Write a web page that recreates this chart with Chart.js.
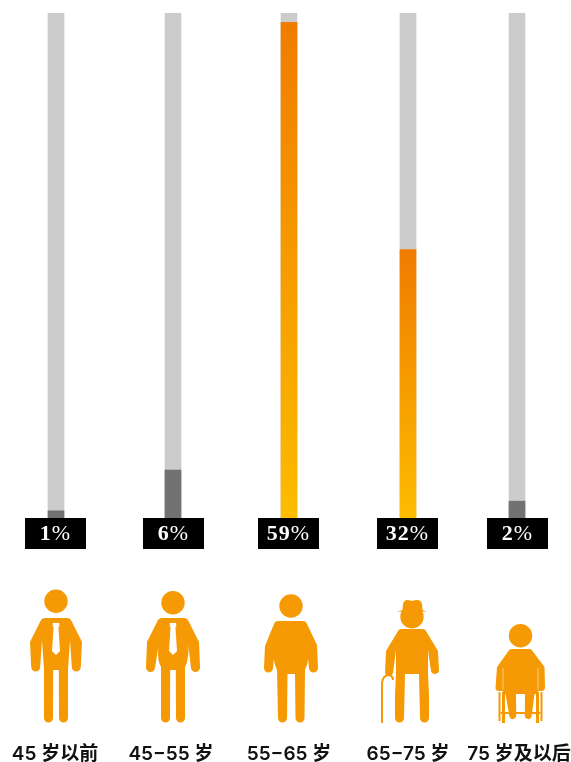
<!DOCTYPE html>
<html lang="zh">
<head>
<meta charset="utf-8">
<title>发病年龄分布</title>
<script src="https://cdn.jsdelivr.net/npm/chart.js@4/dist/chart.umd.min.js"></script>
<style>
  html, body { margin: 0; padding: 0; background: #fff; }
  #wrap { width: 571px; height: 762px; position: relative; }
</style>
</head>
<body>
<div id="wrap"><canvas id="grafico"></canvas></div>
<script>
// dados
const categories = ['45 岁以前', '45−55 岁', '55−65 岁', '65−75 岁', '75 岁及以后'];
const shareValues = [0.85, 5.7, 58.9, 31.9, 2];
const shareLabels = ['1', '6', '59', '32', '2'];
const trackValues = [60, 60, 60, 60, 60];

// layout: the columns are not evenly spaced in the picture
const columnCentres = [56, 173, 289, 408, 517];
const labelCentres = [55, 171, 289, 408, 519];
const boxOffsets = [-31, -30, -31, -31, -30];
const iconOrange = '#f59a04';

function barFill(context) {
  const chart = context.chart;
  const value = context.raw.y;
  if (value < 10) return '#727272';
  const y = chart.scales.y;
  const g = chart.ctx.createLinearGradient(0, y.getPixelForValue(value), 0, y.getPixelForValue(0));
  g.addColorStop(0, '#f07c00');
  g.addColorStop(1, '#fcbc00');
  return g;
}

// black boxes with the percentages: bold digits, lighter % sign
const percentBoxes = {
  id: 'percentBoxes',
  afterDatasetsDraw(chart) {
    const ctx = chart.ctx;
    const top = chart.scales.y.getPixelForValue(0);
    const boldFont = 'bold 22px "Liberation Serif"';
    const thinFont = '22px "Liberation Serif"';
    ctx.save();
    ctx.textAlign = 'left';
    ctx.textBaseline = 'middle';
    shareLabels.forEach((label, i) => {
      const x = chart.scales.x.getPixelForValue(columnCentres[i]);
      ctx.fillStyle = '#000';
      ctx.fillRect(x + boxOffsets[i], top, 61, 31);
      ctx.fillStyle = '#fff';
      ctx.letterSpacing = '1px';
      ctx.font = boldFont;
      const digits = ctx.measureText(label).width;
      ctx.font = thinFont;
      const sign = ctx.measureText('%').width;
      const start = x + boxOffsets[i] + 30.5 - (digits + sign) / 2;
      ctx.fillText('%', start + digits, top + 16);
      ctx.font = boldFont;
      ctx.fillText(label, start, top + 16);
    });
    ctx.restore();
  }
};

// pictograms, drawn relative to each figure's centre
const figures = [
  { cx: 56, head: 601.3, parts: [
    'M-11 618 H11 Q14 618 15.5 621 L26 642 L24.8 667 A4.5 4.5 0 0 1 15.8 667 L14 640 L12 670 L12 718 A4.5 4.5 0 0 1 3 718 L2.8 670 H-2.8 L-3 718 A4.5 4.5 0 0 1 -12 718 L-12 670 L-14 640 L-15.8 667 A4.5 4.5 0 0 1 -24.8 667 L-26 642 L-15.5 621 Q-14 618 -11 618 Z'
  ], tie: true },
  { cx: 173, head: 602.7, parts: [
    'M-11 618 H11 Q14 618 15.5 621 L26 642 L27 667 A4.5 4.5 0 0 1 18 668 L15 642 Q16 652 15 656 Q14 664 12 667 L12 718 A4.5 4.5 0 0 1 3 718 L2.8 670 H-2.8 L-3 718 A4.5 4.5 0 0 1 -12 718 L-12 667 Q-15 662 -15 653 Q-15 645 -14 642 L-18 668 A4.5 4.5 0 0 1 -27 667 L-26 642 L-15.5 621 Q-14 618 -11 618 Z'
  ], tie: true },
  { cx: 291, head: 606, parts: [
    'M-13 621 H12 Q15 621 16 624 L26 645 L27 668 A4.5 4.5 0 0 1 18 668 L16 648 Q19 660 14 670 L13.5 718 A4.5 4.5 0 0 1 4.5 718 L4 674 H-3.5 L-4 718 A4.5 4.5 0 0 1 -13 718 L-14 670 Q-19 660 -16 648 L-18 668 A4.5 4.5 0 0 1 -27 668 L-26 646 L-17 624 Q-16 621 -13 621 Z'
  ], tie: false },
  { cx: 412, head: 616.7, parts: [
    'M-11 629 H11 Q13 629 14 631 L26 651 L27 671 A4.2 4.2 0 0 1 19 671 L16 650 L16 674 L17 695 L17 718 A4.5 4.5 0 0 1 8 718 L7 674 H-7 L-8 718 A4.5 4.5 0 0 1 -17 718 L-17 695 L-16 674 L-16 650 L-19 673 A4.2 4.2 0 0 1 -27 673 L-26 651 L-14 631 Q-13 629 -11 629 Z',
    'M-9.5 610 L-9 604 Q-8 600 -5 600 Q-3 600 0 601 Q3 600 5 600 Q9 600 10 604 L10.5 610 L15 611.5 L-15 611.5 Z'
  ], tie: false, cane: true },
  { cx: 520.5, head: 635.7, parts: [
    'M-9 649 H9 Q11 649 12 651 L24 667 L24.5 688 Q24 691 21 691 L17.5 691 L17.5 694 H14 L11 717 A3.5 3.5 0 0 1 4.3 716 L4.5 694 H-4.5 L-4.3 716 A3.5 3.5 0 0 1 -11 717 L-15 694 H-17.5 L-17.5 691 H-21 Q-25 691 -25 688 L-23.5 667 L-12 651 Q-11 649 -9 649 Z'
  ], tie: false, chair: true }
];

const figureIcons = {
  id: 'figureIcons',
  afterDraw(chart) {
    const ctx = chart.ctx;
    figures.forEach(f => {
      ctx.save();
      ctx.translate(f.cx, 0);
      ctx.fillStyle = iconOrange;
      ctx.strokeStyle = iconOrange;
      ctx.beginPath();
      ctx.arc(0, f.head, 11.7, 0, Math.PI * 2);
      ctx.fill();
      f.parts.forEach(p => ctx.fill(new Path2D(p)));
      if (f.tie) {
        ctx.fillStyle = '#fff';
        ctx.fill(new Path2D('M-3.2 623 H3.2 V627 H2.4 L4 651 L0 655 L-4 651 L-2.4 627 H-3.2 Z'));
      }
      if (f.cane) {
        ctx.lineWidth = 2;
        ctx.beginPath();
        ctx.moveTo(-30, 723);
        ctx.lineTo(-30, 683);
        ctx.quadraticCurveTo(-29, 675, -23, 675);
        ctx.quadraticCurveTo(-19, 676, -19, 680);
        ctx.stroke();
      }
      if (f.chair) {
        ctx.fillRect(-20, 712, 40, 2);
        [[-22, 2, 721], [-18.5, 3, 723], [15.5, 3, 723], [20, 2, 721]].forEach(l => {
          ctx.fillRect(l[0], 692, l[1], l[2] - 692);
        });
        // thin gaps between arms and torso
        ctx.strokeStyle = '#fbd9a0';
        ctx.lineWidth = 0.8;
        ctx.beginPath();
        ctx.moveTo(-17.5, 668); ctx.lineTo(-17.5, 690);
        ctx.moveTo(17.5, 668); ctx.lineTo(17.5, 690);
        ctx.stroke();
      }
      ctx.restore();
    });
  }
};

new Chart(document.getElementById('grafico'), {
  type: 'bar',
  data: {
    datasets: [
      {
        label: 'share',
        data: columnCentres.map((x, i) => ({ x: x, y: shareValues[i] })),
        backgroundColor: barFill,
        grouped: false,
        barThickness: 16,
        order: 0
      },
      {
        label: 'track',
        data: columnCentres.map((x, i) => ({ x: x, y: trackValues[i] })),
        backgroundColor: '#cccccc',
        grouped: false,
        barThickness: 16,
        order: 1
      }
    ]
  },
  options: {
    responsive: true,
    maintainAspectRatio: false,
    animation: false,
    layout: { padding: { top: 13, left: 0, right: 0, bottom: 0 } },
    plugins: { legend: { display: false }, tooltip: { enabled: false } },
    scales: {
      x: {
        type: 'linear',
        min: 0,
        max: 571,
        offset: false,
        // long transparent tick marks push the labels below the figures
        grid: { display: true, drawOnChartArea: false, drawTicks: true, tickLength: 225, tickColor: 'transparent' },
        border: { display: false },
        afterBuildTicks(scale) {
          scale.ticks = labelCentres.map(v => ({ value: v }));
        },
        afterFit(scale) {
          scale.height = 244;
        },
        ticks: {
          autoSkip: false,
          maxRotation: 0,
          minRotation: 0,
          padding: 0,
          color: '#111111',
          font: { family: 'Inter, "Noto Sans CJK SC"', size: 19, weight: '600' },
          callback: (value, index) => categories[index]
        }
      },
      y: { display: false, min: 0, max: 60 }
    }
  },
  plugins: [percentBoxes, figureIcons]
});
</script>
</body>
</html>
